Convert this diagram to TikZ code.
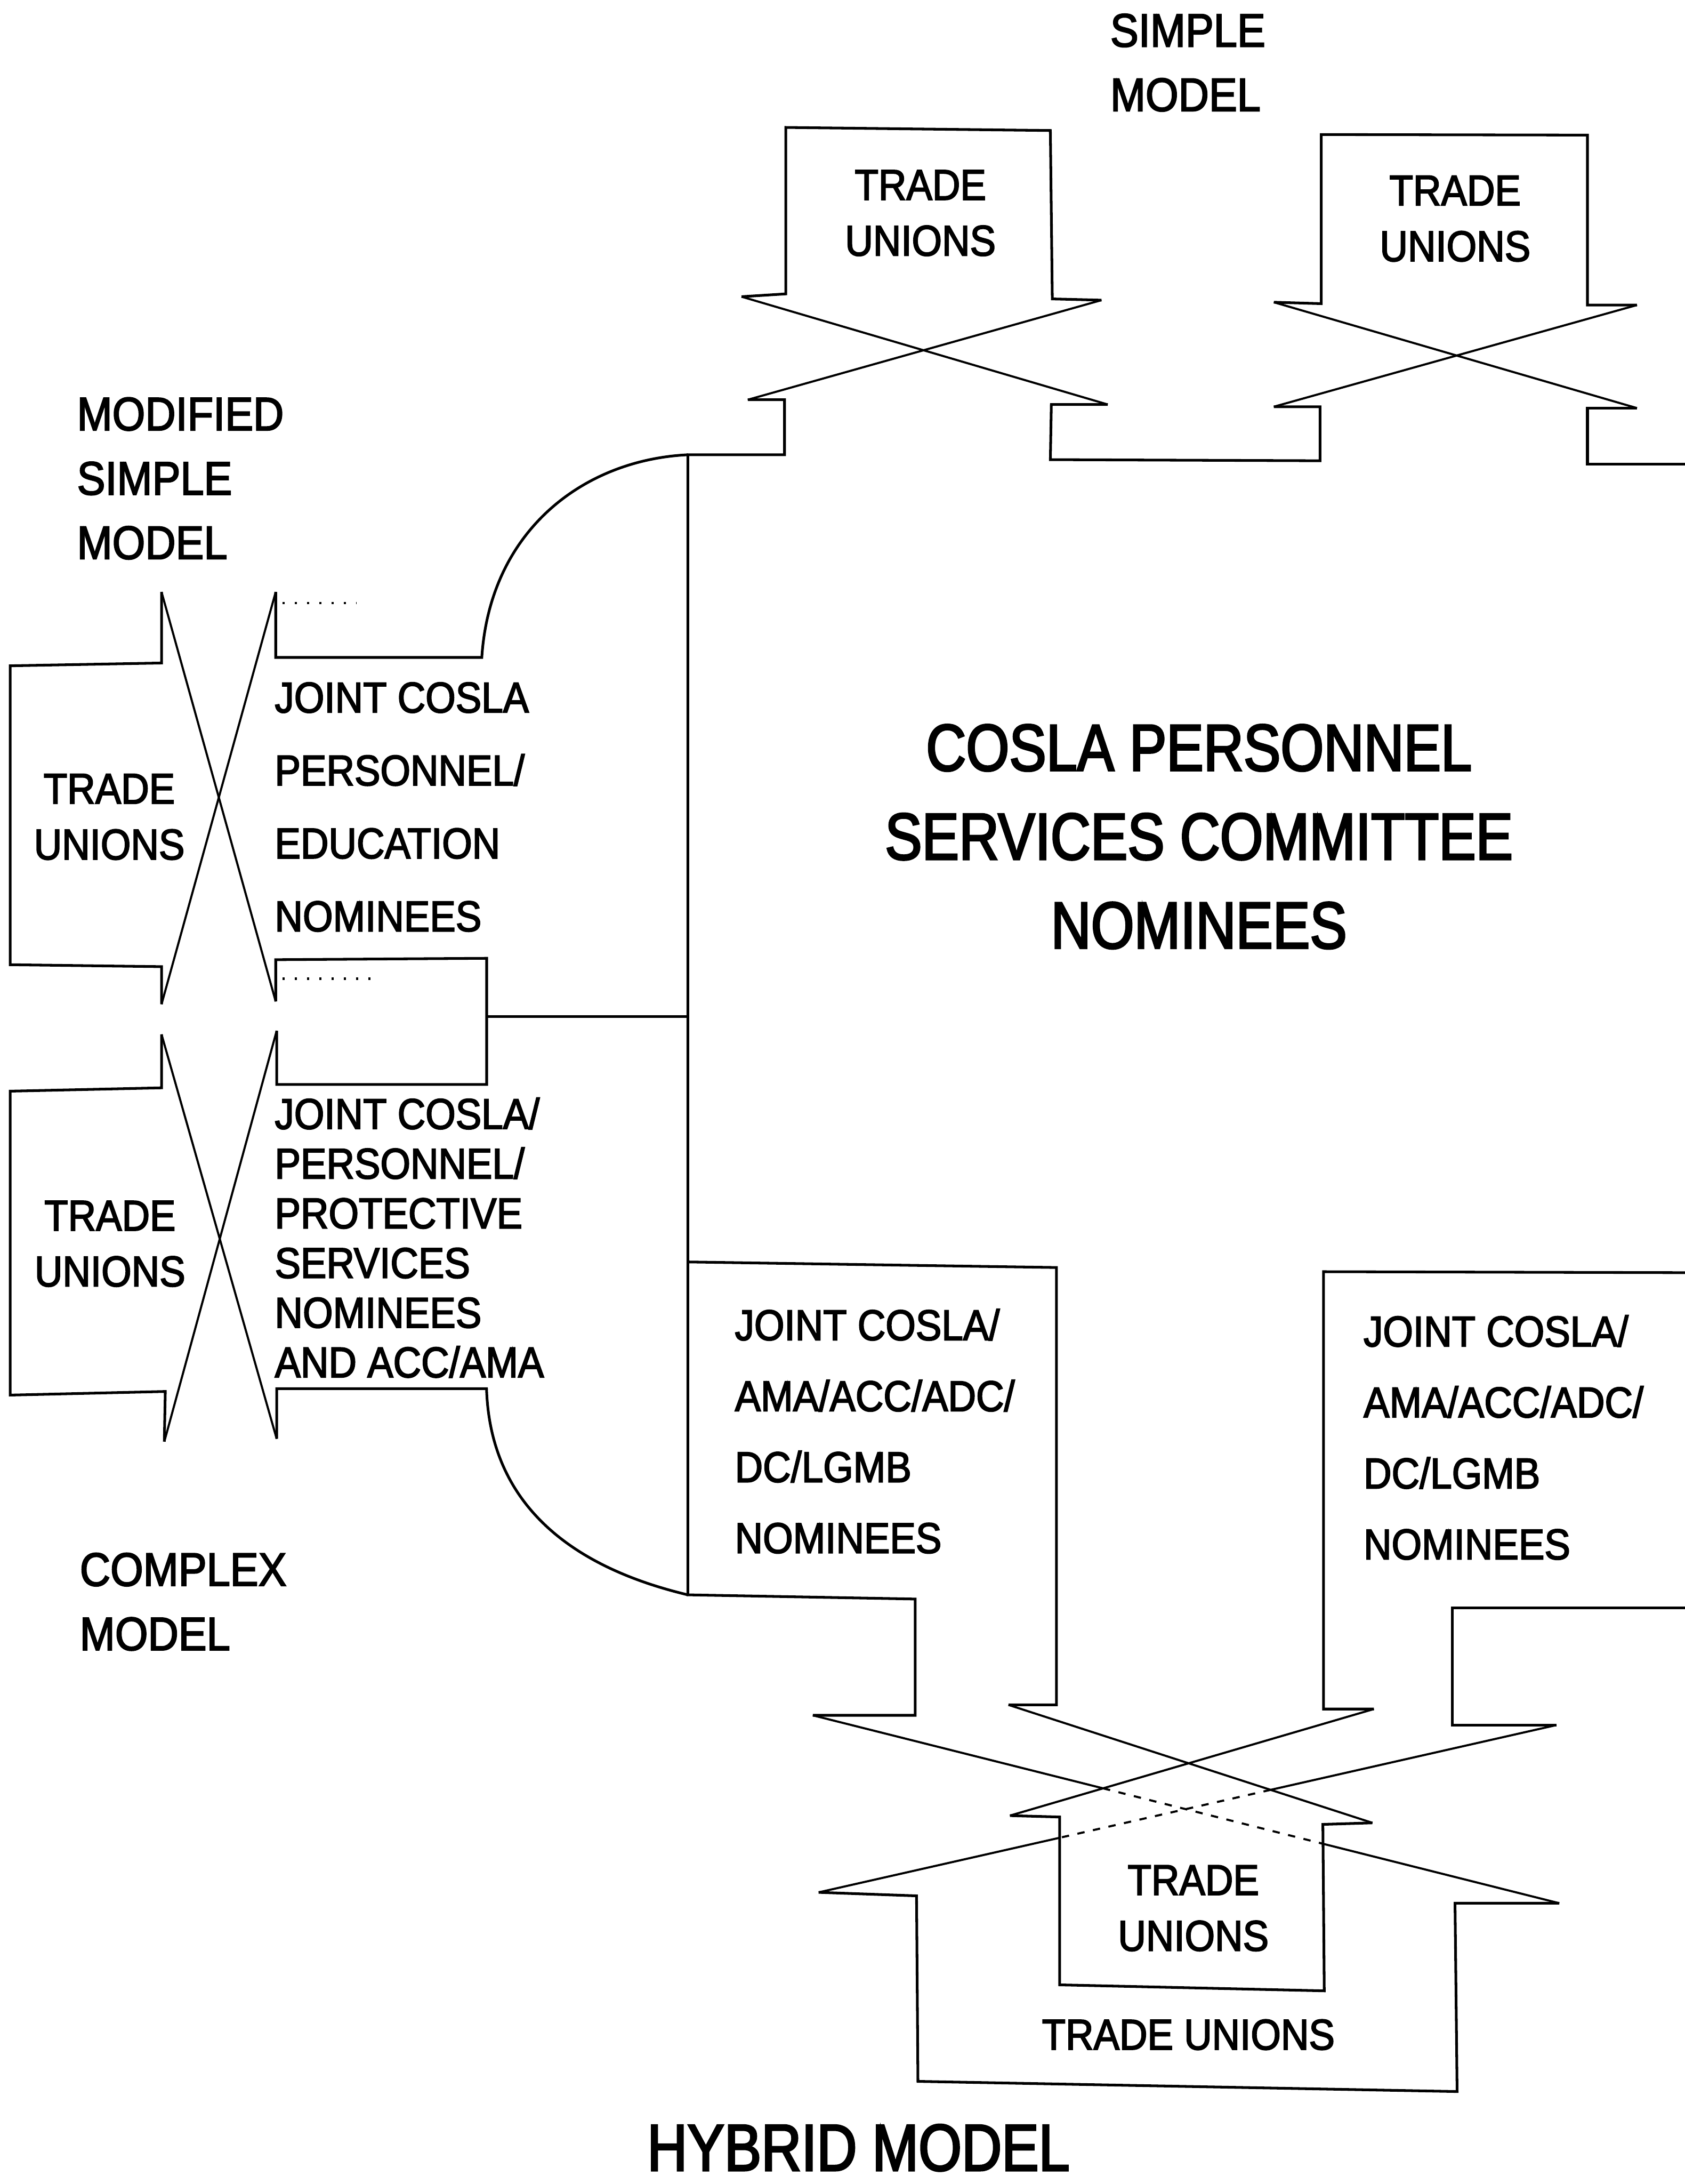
\documentclass[tikz,border=0pt]{standalone}
\usepackage{fontspec}
\newfontfamily\bodyfont{Liberation Sans}[FakeStretch=0.9, FakeBold=2.5]
\newfontfamily\titlefont{Liberation Sans}[FakeStretch=0.84, FakeBold=2.8]
\begin{document}
\begin{tikzpicture}[x=0.02cm,y=-0.02cm,
  outline/.style={line width=1.1pt, line join=miter},
  cross/.style={line width=0.85pt},
  hidden/.style={line width=0.85pt, dash pattern=on 3pt off 3.5pt},
  dotrow/.style={line width=1pt, dash pattern=on 0.8pt off 4.2pt},
  tu/.style={inner sep=0pt, align=center, font=\bodyfont\fontsize{17.6}{22.8}\selectfont},
  wide/.style={inner sep=0pt, align=left, font=\bodyfont\fontsize{17.6}{29.8}\selectfont},
  tight/.style={inner sep=0pt, align=left, font=\bodyfont\fontsize{17.6}{20.3}\selectfont},
  hyb/.style={inner sep=0pt, align=left, font=\bodyfont\fontsize{17.6}{29}\selectfont},
  lab/.style={inner sep=0pt, align=left, font=\bodyfont\fontsize{19.2}{26.3}\selectfont},
  ttl/.style={inner sep=0pt, align=center, font=\titlefont\fontsize{27}{36.3}\selectfont}]
\useasboundingbox (0,0) rectangle (1210,1568);

% ---------- SIMPLE MODEL ----------
\node[lab, anchor=west] (simplelbl) at (797,45) {SIMPLE\\MODEL};
\draw[outline] (532.5,213) -- (564.3,211) -- (564.3,91.5) -- (754.3,93.7) -- (755.7,214.6) -- (791,215.5);
\draw[cross] (532.5,213) -- (795.5,290.4);
\draw[cross] (791,215.5) -- (537,287);
\draw[outline] (795.5,290.4) -- (755,290.4) -- (754.3,330) -- (948,330.8) -- (948,292) -- (914.8,292);
\node[tu] (tu1) at (661,153) {TRADE\\UNIONS};

\draw[outline] (914.8,217) -- (948.8,218) -- (948.8,96.6) -- (1140,97) -- (1140,219) -- (1175.6,219);
\draw[cross] (914.8,217) -- (1175.6,293);
\draw[cross] (1175.6,219) -- (914.8,292);
\draw[outline] (1175.6,293) -- (1140,293) -- (1140,333.4) -- (1210,333.4);
\node[tu] (tu2) at (1045,157) {TRADE\\UNIONS};

% ---------- COSLA frame ----------
\draw[outline] (537,287) -- (563.4,287) -- (563.4,326.5) -- (494,326.5) -- (494,1145)
  -- (657.2,1148) -- (657.2,1231.5) -- (583.7,1231.5);
\node[ttl] (cosla) at (861,600.7) {COSLA PERSONNEL\\SERVICES COMMITTEE\\NOMINEES};

% ---------- MODIFIED SIMPLE MODEL ----------
\node[lab, anchor=west] (modlbl) at (55,343.5) {MODIFIED\\SIMPLE\\MODEL};
\draw[outline] (116,425) -- (116,476) -- (7.3,478) -- (7.3,692.6) -- (116,694) -- (116,721);
\draw[cross] (116,425) -- (198,719);
\draw[cross] (198,425) -- (116,721);
\draw[outline] (198,425) -- (198,472) -- (346,472) .. controls (352,380) and (420,330) .. (494,326.5);
\draw[outline] (198,719) -- (198,689) -- (349.5,688) -- (349.5,778.6) -- (198.7,778.6) -- (198.7,740);
\draw[outline] (349.5,730) -- (494,730);
\draw[dotrow] (203,433) -- (256,433);
\draw[dotrow] (203,702.7) -- (268,702.7);
\node[tu] (tu3) at (78.5,586.5) {TRADE\\UNIONS};
\node[wide, anchor=west] (edu) at (197,579.4) {JOINT COSLA\\PERSONNEL/\\EDUCATION\\NOMINEES};

% ---------- COMPLEX MODEL ----------
\draw[outline] (116,742.6) -- (116,781) -- (7.3,783.4) -- (7.3,1001.6) -- (118.7,999) -- (118,1035);
\draw[cross] (116,742.6) -- (198.7,1033);
\draw[cross] (198.7,740) -- (118,1035);
\draw[outline] (198.7,1033) -- (198.7,997) -- (349.4,997) .. controls (352,1080) and (410,1125) .. (494,1145);
\node[tu] (tu4) at (79,893) {TRADE\\UNIONS};
\node[tight, anchor=west] (prot) at (197,888.6) {JOINT COSLA/\\PERSONNEL/\\PROTECTIVE\\SERVICES\\NOMINEES\\AND ACC/AMA};
\node[lab, anchor=west] (cpxlbl) at (57,1150) {COMPLEX\\MODEL};

% ---------- HYBRID MODEL ----------
\draw[outline] (494,906) -- (758.7,910) -- (758.7,1224) -- (724.2,1224);
\draw[outline] (1210,913.7) -- (950.5,913) -- (950.5,1227) -- (986.6,1227);
\draw[outline] (1210,1154.5) -- (1043,1154.5) -- (1043,1238.5) -- (1117.7,1238.5);
\node[hyb, anchor=west] (jl) at (527.4,1027.5) {JOINT COSLA/\\AMA/ACC/ADC/\\DC/LGMB\\NOMINEES};
\node[hyb, anchor=west] (jr) at (978.9,1032) {JOINT COSLA/\\AMA/ACC/ADC/\\DC/LGMB\\NOMINEES};

% crossing head lines
\draw[cross] (583.7,1231.5) -- (792.1,1283.9);
\draw[hidden] (792.1,1283.9) -- (950,1323.7);
\draw[cross] (950,1323.7) -- (1119.8,1366.4);
\draw[cross] (724.2,1224) -- (985.6,1308.7);
\draw[cross] (986.6,1227) -- (725.3,1303.5);
\draw[cross] (1117.7,1238.5) -- (912.5,1285.0);
\draw[hidden] (912.5,1285.0) -- (761,1319.4);
\draw[cross] (761,1319.4) -- (587.9,1358.6);

% inner and outer trade union shapes
\draw[outline] (725.3,1303.5) -- (761,1304.5) -- (761,1425) -- (951,1429.3) -- (950,1309.8) -- (985.6,1308.7);
\draw[outline] (587.9,1358.6) -- (658.2,1361.1) -- (659.2,1494.3) -- (1046.4,1501.6) -- (1044.9,1366.4) -- (1119.8,1366.4);
\node[tu] (tu5) at (857,1370) {TRADE\\UNIONS};
\node[tu] (tu6) at (853.4,1460.8) {TRADE UNIONS};
\node[ttl] (hybrid) at (616.5,1542) {HYBRID MODEL};
\end{tikzpicture}
\end{document}
